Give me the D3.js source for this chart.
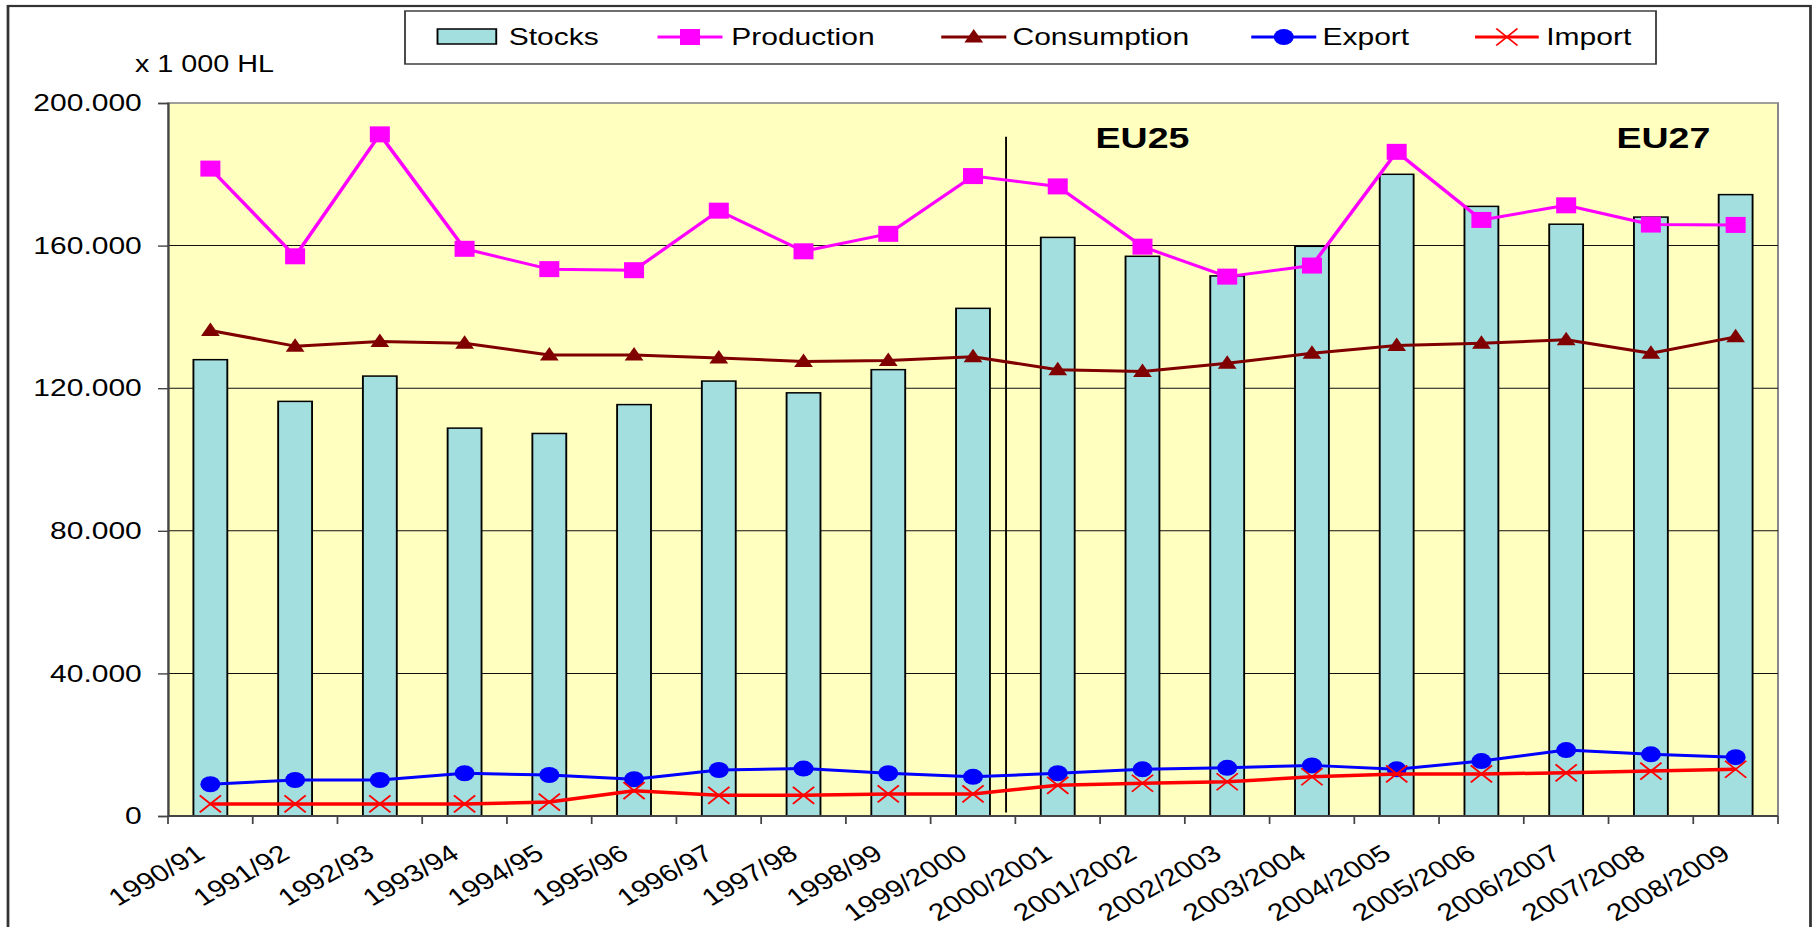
<!DOCTYPE html>
<html>
<head>
<meta charset="utf-8">
<script src="https://cdn.jsdelivr.net/npm/d3@7"></script>
<style>
  body { margin: 0; background: #fff; }
  svg { display: block; }
  text { font-family: "Liberation Sans", Arial, sans-serif; fill: #000; }
</style>
</head>
<body>
<svg id="chart"></svg>
<script>
// Seasons on the x axis
const seasons = ["1990/91", "1991/92", "1992/93", "1993/94", "1994/95", "1995/96", "1996/97",
  "1997/98", "1998/99", "1999/2000", "2000/2001", "2001/2002", "2002/2003", "2003/2004",
  "2004/2005", "2005/2006", "2006/2007", "2007/2008", "2008/2009"];

// Values in 1 000 hl
const stocks = [128000, 116300, 123400, 108800, 107300, 115400, 122000, 118700, 125200, 142400,
  162300, 157000, 151500, 159800, 180000, 171000, 166000, 168000, 174300];
const production = [181600, 157000, 191200, 159100, 153400, 153100, 169800, 158400, 163300, 179500,
  176600, 159700, 151300, 154400, 186300, 167200, 171300, 165900, 165800];
const consumption = [136200, 131800, 133100, 132600, 129300, 129300, 128500, 127500, 127800, 128800,
  125200, 124700, 127000, 129800, 132000, 132600, 133600, 129800, 134400];
const exportVals = [8900, 10100, 10100, 12000, 11500, 10300, 12900, 13300, 12000, 11000,
  12000, 13100, 13500, 14200, 13100, 15400, 18500, 17300, 16500];
const importVals = [3400, 3400, 3400, 3400, 3900, 7100, 5800, 5800, 6200, 6200,
  8600, 9200, 9600, 11000, 11800, 11800, 12100, 12600, 13100];

const yTicks = [0, 40000, 80000, 120000, 160000, 200000];

// The picture is stretched sideways, so draw in a narrower box and let the viewBox stretch it
const W = 1820, H = 927, stretch = 1.25;
const vw = W / stretch;

const svg = d3.select("#chart")
    .attr("width", W)
    .attr("height", H)
    .attr("viewBox", `0 0 ${vw} ${H}`)
    .attr("preserveAspectRatio", "none");

const plot = { left: 134.4, right: 1422.4, top: 103, bottom: 816 };

const x = d3.scaleBand().domain(seasons).range([plot.left, plot.right]);
const y = d3.scaleLinear().domain([0, 200000]).range([plot.bottom, plot.top]);
const cx = s => x(s) + x.bandwidth() / 2;

const fmt = d3.formatLocale({ decimal: ",", thousands: ".", grouping: [3], currency: ["", ""] }).format(",");

// Outer frame
svg.append("rect")
    .attr("x", 6.4).attr("y", 6)
    .attr("width", 1442).attr("height", 1000)
    .attr("fill", "#fff")
    .attr("stroke", "#333").attr("stroke-width", 2.2);

// Plot background
svg.append("rect")
    .attr("x", plot.left).attr("y", plot.top)
    .attr("width", plot.right - plot.left).attr("height", plot.bottom - plot.top)
    .attr("fill", "#ffffc0")
    .attr("stroke", "#888").attr("stroke-width", 1.6);

// Gridlines
svg.append("g").selectAll("line")
    .data(yTicks.filter(d => d > 0 && d < 200000))
    .enter().append("line")
    .attr("x1", plot.left).attr("x2", plot.right)
    .attr("y1", d => y(d)).attr("y2", d => y(d))
    .attr("stroke", "#111").attr("stroke-width", 1);

// Y axis
const yAxis = svg.append("g")
    .attr("transform", `translate(${plot.left},0)`)
    .call(d3.axisLeft(y).tickValues(yTicks).tickSize(8).tickPadding(13).tickFormat(fmt));
yAxis.select(".domain").attr("stroke", "#444").attr("stroke-width", 1.6);
yAxis.selectAll(".tick line").attr("stroke", "#444").attr("stroke-width", 1.4);
yAxis.selectAll(".tick text")
    .attr("font-size", 24)
    .attr("font-family", "'Liberation Sans', Arial, sans-serif")
    .attr("fill", "#000");

svg.append("text")
    .attr("x", 108).attr("y", 72)
    .attr("font-size", 23)
    .text("x 1 000 HL");

// Stock bars
const barW = x.step() * 0.4;
svg.append("g").selectAll("rect")
    .data(seasons)
    .enter().append("rect")
    .attr("x", (d) => cx(d) - barW / 2)
    .attr("y", (d, i) => y(stocks[i]))
    .attr("width", barW)
    .attr("height", (d, i) => y(0) - y(stocks[i]))
    .attr("fill", "#a4dfe0")
    .attr("stroke", "#000").attr("stroke-width", 1.5);

// X axis
svg.append("line")
    .attr("x1", plot.left).attr("x2", plot.right)
    .attr("y1", plot.bottom).attr("y2", plot.bottom)
    .attr("stroke", "#444").attr("stroke-width", 2);

svg.append("g").selectAll("line")
    .data(seasons.map(s => x(s)).concat([plot.right]))
    .enter().append("line")
    .attr("x1", d => d).attr("x2", d => d)
    .attr("y1", plot.bottom).attr("y2", plot.bottom + 8)
    .attr("stroke", "#444").attr("stroke-width", 1.4);

svg.append("g").selectAll("text")
    .data(seasons)
    .enter().append("text")
    .attr("transform", d => `translate(${cx(d) - 3},${plot.bottom + 41}) rotate(-35)`)
    .attr("text-anchor", "end")
    .attr("font-size", 24)
    .text(d => d);

// EU25 / EU27 split
const splitX = x("2000/2001") - x.step() * 0.11;
svg.append("line")
    .attr("x1", splitX).attr("x2", splitX)
    .attr("y1", y(190500)).attr("y2", y(1000))
    .attr("stroke", "#000").attr("stroke-width", 1.5);

svg.append("text")
    .attr("x", cx("2001/2002")).attr("y", 148)
    .attr("text-anchor", "middle")
    .attr("font-size", 30).attr("font-weight", "bold")
    .text("EU25");
svg.append("text")
    .attr("x", cx("2007/2008") + 10).attr("y", 148)
    .attr("text-anchor", "middle")
    .attr("font-size", 30).attr("font-weight", "bold")
    .text("EU27");

// Lines
function drawLine(values, color, width) {
    const line = d3.line()
        .x((d, i) => cx(seasons[i]))
        .y(d => y(d));
    svg.append("path")
        .datum(values)
        .attr("d", line)
        .attr("fill", "none")
        .attr("stroke", color)
        .attr("stroke-width", width)
        .attr("stroke-linejoin", "round");
}

function squareMarker(g, color) {
    g.append("rect").attr("x", -8).attr("y", -8).attr("width", 16).attr("height", 16).attr("fill", color);
}
function triangleMarker(g, color) {
    g.append("path").attr("d", "M0,-8 L7.5,5.5 L-7.5,5.5 Z").attr("fill", color);
}
function circleMarker(g, color) {
    g.append("circle").attr("r", 8).attr("fill", color);
}
function crossMarker(g, color) {
    g.append("path").attr("d", "M-8.5,-8.5 L8.5,8.5 M-8.5,8.5 L8.5,-8.5")
        .attr("stroke", color).attr("stroke-width", 1.6).attr("fill", "none");
}

function drawMarkers(values, marker, color) {
    const g = svg.append("g");
    values.forEach((v, i) => {
        const m = g.append("g").attr("transform", `translate(${cx(seasons[i])},${y(v)})`);
        marker(m, color);
    });
}

drawLine(production, "#ff00ff", 3);
drawMarkers(production, squareMarker, "#ff00ff");
drawLine(consumption, "#800000", 3);
drawMarkers(consumption, triangleMarker, "#800000");
drawLine(exportVals, "#0000ff", 3);
drawMarkers(exportVals, circleMarker, "#0000ff");
drawLine(importVals, "#ff0000", 3.5);
drawMarkers(importVals, crossMarker, "#ff0000");

// Legend
const legend = svg.append("g");
legend.append("rect")
    .attr("x", 324).attr("y", 11)
    .attr("width", 1000.8).attr("height", 53)
    .attr("fill", "#fff")
    .attr("stroke", "#333").attr("stroke-width", 1.4);

legend.append("rect")
    .attr("x", 350).attr("y", 29).attr("width", 47).attr("height", 15)
    .attr("fill", "#a4dfe0").attr("stroke", "#000").attr("stroke-width", 1.5);
legend.append("text").attr("x", 407).attr("y", 45).attr("font-size", 24).text("Stocks");

const legendItems = [
    { name: "Production", color: "#ff00ff", marker: squareMarker, x0: 526, x1: 578, tx: 585 },
    { name: "Consumption", color: "#800000", marker: triangleMarker, x0: 753, x1: 805, tx: 810 },
    { name: "Export", color: "#0000ff", marker: circleMarker, x0: 1001, x1: 1053, tx: 1058 },
    { name: "Import", color: "#ff0000", marker: crossMarker, x0: 1180, x1: 1231, tx: 1237 }
];
legendItems.forEach(it => {
    legend.append("line")
        .attr("x1", it.x0).attr("x2", it.x1)
        .attr("y1", 37).attr("y2", 37)
        .attr("stroke", it.color).attr("stroke-width", 3);
    const m = legend.append("g").attr("transform", `translate(${(it.x0 + it.x1) / 2},37)`);
    it.marker(m, it.color);
    legend.append("text").attr("x", it.tx).attr("y", 45).attr("font-size", 24).text(it.name);
});
</script>
</body>
</html>
